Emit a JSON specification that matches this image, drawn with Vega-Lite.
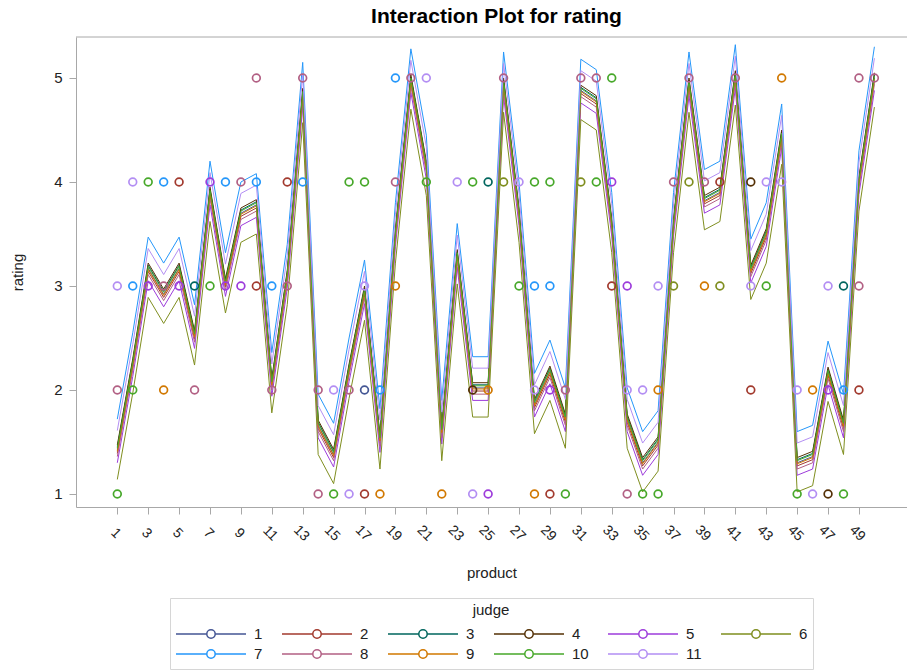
{
"$schema":"https://vega.github.io/schema/vega-lite/v6.json",
"width":831,"height":470,
"autosize":{"type":"none"},
"padding":{"left":76,"top":37,"right":0,"bottom":165},
"background":"white",
"title":{"text":"Interaction Plot for rating","fontSize":21,"font":"Liberation Sans","fontWeight":"bold","color":"#000","anchor":"middle","frame":"group","offset":10,"dx":5},
"datasets":{
"fits":[
{"product":1,"judge":1,"fit":1.42},{"product":1,"judge":2,"fit":1.39},{"product":1,"judge":3,"fit":1.45},{"product":1,"judge":4,"fit":1.47},{"product":1,"judge":5,"fit":1.30},{"product":1,"judge":6,"fit":1.14},{"product":1,"judge":7,"fit":1.72},{"product":1,"judge":8,"fit":1.36},{"product":1,"judge":9,"fit":1.41},{"product":1,"judge":10,"fit":1.44},{"product":1,"judge":11,"fit":1.61},
{"product":2,"judge":1,"fit":2.25},{"product":2,"judge":2,"fit":2.22},{"product":2,"judge":3,"fit":2.28},{"product":2,"judge":4,"fit":2.30},{"product":2,"judge":5,"fit":2.13},{"product":2,"judge":6,"fit":1.97},{"product":2,"judge":7,"fit":2.55},{"product":2,"judge":8,"fit":2.19},{"product":2,"judge":9,"fit":2.24},{"product":2,"judge":10,"fit":2.27},{"product":2,"judge":11,"fit":2.44},
{"product":3,"judge":1,"fit":3.17},{"product":3,"judge":2,"fit":3.14},{"product":3,"judge":3,"fit":3.20},{"product":3,"judge":4,"fit":3.22},{"product":3,"judge":5,"fit":3.05},{"product":3,"judge":6,"fit":2.89},{"product":3,"judge":7,"fit":3.47},{"product":3,"judge":8,"fit":3.11},{"product":3,"judge":9,"fit":3.16},{"product":3,"judge":10,"fit":3.19},{"product":3,"judge":11,"fit":3.36},
{"product":4,"judge":1,"fit":2.92},{"product":4,"judge":2,"fit":2.89},{"product":4,"judge":3,"fit":2.95},{"product":4,"judge":4,"fit":2.97},{"product":4,"judge":5,"fit":2.80},{"product":4,"judge":6,"fit":2.64},{"product":4,"judge":7,"fit":3.22},{"product":4,"judge":8,"fit":2.86},{"product":4,"judge":9,"fit":2.91},{"product":4,"judge":10,"fit":2.94},{"product":4,"judge":11,"fit":3.11},
{"product":5,"judge":1,"fit":3.17},{"product":5,"judge":2,"fit":3.14},{"product":5,"judge":3,"fit":3.20},{"product":5,"judge":4,"fit":3.22},{"product":5,"judge":5,"fit":3.05},{"product":5,"judge":6,"fit":2.89},{"product":5,"judge":7,"fit":3.47},{"product":5,"judge":8,"fit":3.11},{"product":5,"judge":9,"fit":3.16},{"product":5,"judge":10,"fit":3.19},{"product":5,"judge":11,"fit":3.36},
{"product":6,"judge":1,"fit":2.52},{"product":6,"judge":2,"fit":2.49},{"product":6,"judge":3,"fit":2.55},{"product":6,"judge":4,"fit":2.57},{"product":6,"judge":5,"fit":2.40},{"product":6,"judge":6,"fit":2.24},{"product":6,"judge":7,"fit":2.82},{"product":6,"judge":8,"fit":2.46},{"product":6,"judge":9,"fit":2.51},{"product":6,"judge":10,"fit":2.54},{"product":6,"judge":11,"fit":2.71},
{"product":7,"judge":1,"fit":3.90},{"product":7,"judge":2,"fit":3.87},{"product":7,"judge":3,"fit":3.93},{"product":7,"judge":4,"fit":3.95},{"product":7,"judge":5,"fit":3.78},{"product":7,"judge":6,"fit":3.62},{"product":7,"judge":7,"fit":4.20},{"product":7,"judge":8,"fit":3.84},{"product":7,"judge":9,"fit":3.89},{"product":7,"judge":10,"fit":3.92},{"product":7,"judge":11,"fit":4.09},
{"product":8,"judge":1,"fit":3.02},{"product":8,"judge":2,"fit":2.99},{"product":8,"judge":3,"fit":3.05},{"product":8,"judge":4,"fit":3.07},{"product":8,"judge":5,"fit":2.90},{"product":8,"judge":6,"fit":2.74},{"product":8,"judge":7,"fit":3.32},{"product":8,"judge":8,"fit":2.96},{"product":8,"judge":9,"fit":3.01},{"product":8,"judge":10,"fit":3.04},{"product":8,"judge":11,"fit":3.21},
{"product":9,"judge":1,"fit":3.70},{"product":9,"judge":2,"fit":3.67},{"product":9,"judge":3,"fit":3.73},{"product":9,"judge":4,"fit":3.75},{"product":9,"judge":5,"fit":3.58},{"product":9,"judge":6,"fit":3.42},{"product":9,"judge":7,"fit":4.00},{"product":9,"judge":8,"fit":3.64},{"product":9,"judge":9,"fit":3.69},{"product":9,"judge":10,"fit":3.72},{"product":9,"judge":11,"fit":3.89},
{"product":10,"judge":1,"fit":3.78},{"product":10,"judge":2,"fit":3.75},{"product":10,"judge":3,"fit":3.81},{"product":10,"judge":4,"fit":3.83},{"product":10,"judge":5,"fit":3.66},{"product":10,"judge":6,"fit":3.50},{"product":10,"judge":7,"fit":4.08},{"product":10,"judge":8,"fit":3.72},{"product":10,"judge":9,"fit":3.77},{"product":10,"judge":10,"fit":3.80},{"product":10,"judge":11,"fit":3.97},
{"product":11,"judge":1,"fit":2.06},{"product":11,"judge":2,"fit":2.03},{"product":11,"judge":3,"fit":2.09},{"product":11,"judge":4,"fit":2.11},{"product":11,"judge":5,"fit":1.94},{"product":11,"judge":6,"fit":1.78},{"product":11,"judge":7,"fit":2.36},{"product":11,"judge":8,"fit":2.00},{"product":11,"judge":9,"fit":2.05},{"product":11,"judge":10,"fit":2.08},{"product":11,"judge":11,"fit":2.25},
{"product":12,"judge":1,"fit":3.10},{"product":12,"judge":2,"fit":3.07},{"product":12,"judge":3,"fit":3.13},{"product":12,"judge":4,"fit":3.15},{"product":12,"judge":5,"fit":2.98},{"product":12,"judge":6,"fit":2.82},{"product":12,"judge":7,"fit":3.40},{"product":12,"judge":8,"fit":3.04},{"product":12,"judge":9,"fit":3.09},{"product":12,"judge":10,"fit":3.12},{"product":12,"judge":11,"fit":3.29},
{"product":13,"judge":1,"fit":4.85},{"product":13,"judge":2,"fit":4.82},{"product":13,"judge":3,"fit":4.88},{"product":13,"judge":4,"fit":4.90},{"product":13,"judge":5,"fit":4.73},{"product":13,"judge":6,"fit":4.57},{"product":13,"judge":7,"fit":5.15},{"product":13,"judge":8,"fit":4.79},{"product":13,"judge":9,"fit":4.84},{"product":13,"judge":10,"fit":4.87},{"product":13,"judge":11,"fit":5.04},
{"product":14,"judge":1,"fit":1.66},{"product":14,"judge":2,"fit":1.63},{"product":14,"judge":3,"fit":1.69},{"product":14,"judge":4,"fit":1.71},{"product":14,"judge":5,"fit":1.54},{"product":14,"judge":6,"fit":1.38},{"product":14,"judge":7,"fit":1.96},{"product":14,"judge":8,"fit":1.60},{"product":14,"judge":9,"fit":1.65},{"product":14,"judge":10,"fit":1.68},{"product":14,"judge":11,"fit":1.85},
{"product":15,"judge":1,"fit":1.38},{"product":15,"judge":2,"fit":1.35},{"product":15,"judge":3,"fit":1.41},{"product":15,"judge":4,"fit":1.43},{"product":15,"judge":5,"fit":1.26},{"product":15,"judge":6,"fit":1.10},{"product":15,"judge":7,"fit":1.68},{"product":15,"judge":8,"fit":1.32},{"product":15,"judge":9,"fit":1.37},{"product":15,"judge":10,"fit":1.40},{"product":15,"judge":11,"fit":1.57},
{"product":16,"judge":1,"fit":2.20},{"product":16,"judge":2,"fit":2.17},{"product":16,"judge":3,"fit":2.23},{"product":16,"judge":4,"fit":2.25},{"product":16,"judge":5,"fit":2.08},{"product":16,"judge":6,"fit":1.92},{"product":16,"judge":7,"fit":2.50},{"product":16,"judge":8,"fit":2.14},{"product":16,"judge":9,"fit":2.19},{"product":16,"judge":10,"fit":2.22},{"product":16,"judge":11,"fit":2.39},
{"product":17,"judge":1,"fit":2.95},{"product":17,"judge":2,"fit":2.92},{"product":17,"judge":3,"fit":2.98},{"product":17,"judge":4,"fit":3.00},{"product":17,"judge":5,"fit":2.83},{"product":17,"judge":6,"fit":2.67},{"product":17,"judge":7,"fit":3.25},{"product":17,"judge":8,"fit":2.89},{"product":17,"judge":9,"fit":2.94},{"product":17,"judge":10,"fit":2.97},{"product":17,"judge":11,"fit":3.14},
{"product":18,"judge":1,"fit":1.52},{"product":18,"judge":2,"fit":1.49},{"product":18,"judge":3,"fit":1.55},{"product":18,"judge":4,"fit":1.57},{"product":18,"judge":5,"fit":1.40},{"product":18,"judge":6,"fit":1.24},{"product":18,"judge":7,"fit":1.82},{"product":18,"judge":8,"fit":1.46},{"product":18,"judge":9,"fit":1.51},{"product":18,"judge":10,"fit":1.54},{"product":18,"judge":11,"fit":1.71},
{"product":19,"judge":1,"fit":3.50},{"product":19,"judge":2,"fit":3.47},{"product":19,"judge":3,"fit":3.53},{"product":19,"judge":4,"fit":3.55},{"product":19,"judge":5,"fit":3.38},{"product":19,"judge":6,"fit":3.22},{"product":19,"judge":7,"fit":3.80},{"product":19,"judge":8,"fit":3.44},{"product":19,"judge":9,"fit":3.49},{"product":19,"judge":10,"fit":3.52},{"product":19,"judge":11,"fit":3.69},
{"product":20,"judge":1,"fit":4.98},{"product":20,"judge":2,"fit":4.95},{"product":20,"judge":3,"fit":5.01},{"product":20,"judge":4,"fit":5.03},{"product":20,"judge":5,"fit":4.86},{"product":20,"judge":6,"fit":4.70},{"product":20,"judge":7,"fit":5.28},{"product":20,"judge":8,"fit":4.92},{"product":20,"judge":9,"fit":4.97},{"product":20,"judge":10,"fit":5.00},{"product":20,"judge":11,"fit":5.17},
{"product":21,"judge":1,"fit":4.15},{"product":21,"judge":2,"fit":4.12},{"product":21,"judge":3,"fit":4.18},{"product":21,"judge":4,"fit":4.20},{"product":21,"judge":5,"fit":4.03},{"product":21,"judge":6,"fit":3.87},{"product":21,"judge":7,"fit":4.45},{"product":21,"judge":8,"fit":4.09},{"product":21,"judge":9,"fit":4.14},{"product":21,"judge":10,"fit":4.17},{"product":21,"judge":11,"fit":4.34},
{"product":22,"judge":1,"fit":1.60},{"product":22,"judge":2,"fit":1.57},{"product":22,"judge":3,"fit":1.63},{"product":22,"judge":4,"fit":1.65},{"product":22,"judge":5,"fit":1.48},{"product":22,"judge":6,"fit":1.32},{"product":22,"judge":7,"fit":1.90},{"product":22,"judge":8,"fit":1.54},{"product":22,"judge":9,"fit":1.59},{"product":22,"judge":10,"fit":1.62},{"product":22,"judge":11,"fit":1.79},
{"product":23,"judge":1,"fit":3.30},{"product":23,"judge":2,"fit":3.27},{"product":23,"judge":3,"fit":3.33},{"product":23,"judge":4,"fit":3.35},{"product":23,"judge":5,"fit":3.18},{"product":23,"judge":6,"fit":3.02},{"product":23,"judge":7,"fit":3.60},{"product":23,"judge":8,"fit":3.24},{"product":23,"judge":9,"fit":3.29},{"product":23,"judge":10,"fit":3.32},{"product":23,"judge":11,"fit":3.49},
{"product":24,"judge":1,"fit":2.02},{"product":24,"judge":2,"fit":1.99},{"product":24,"judge":3,"fit":2.05},{"product":24,"judge":4,"fit":2.07},{"product":24,"judge":5,"fit":1.90},{"product":24,"judge":6,"fit":1.74},{"product":24,"judge":7,"fit":2.32},{"product":24,"judge":8,"fit":1.96},{"product":24,"judge":9,"fit":2.01},{"product":24,"judge":10,"fit":2.04},{"product":24,"judge":11,"fit":2.21},
{"product":25,"judge":1,"fit":2.02},{"product":25,"judge":2,"fit":1.99},{"product":25,"judge":3,"fit":2.05},{"product":25,"judge":4,"fit":2.07},{"product":25,"judge":5,"fit":1.90},{"product":25,"judge":6,"fit":1.74},{"product":25,"judge":7,"fit":2.32},{"product":25,"judge":8,"fit":1.96},{"product":25,"judge":9,"fit":2.01},{"product":25,"judge":10,"fit":2.04},{"product":25,"judge":11,"fit":2.21},
{"product":26,"judge":1,"fit":4.95},{"product":26,"judge":2,"fit":4.92},{"product":26,"judge":3,"fit":4.98},{"product":26,"judge":4,"fit":5.00},{"product":26,"judge":5,"fit":4.83},{"product":26,"judge":6,"fit":4.67},{"product":26,"judge":7,"fit":5.25},{"product":26,"judge":8,"fit":4.89},{"product":26,"judge":9,"fit":4.94},{"product":26,"judge":10,"fit":4.97},{"product":26,"judge":11,"fit":5.14},
{"product":27,"judge":1,"fit":3.70},{"product":27,"judge":2,"fit":3.67},{"product":27,"judge":3,"fit":3.73},{"product":27,"judge":4,"fit":3.75},{"product":27,"judge":5,"fit":3.58},{"product":27,"judge":6,"fit":3.42},{"product":27,"judge":7,"fit":4.00},{"product":27,"judge":8,"fit":3.64},{"product":27,"judge":9,"fit":3.69},{"product":27,"judge":10,"fit":3.72},{"product":27,"judge":11,"fit":3.89},
{"product":28,"judge":1,"fit":1.86},{"product":28,"judge":2,"fit":1.83},{"product":28,"judge":3,"fit":1.89},{"product":28,"judge":4,"fit":1.91},{"product":28,"judge":5,"fit":1.74},{"product":28,"judge":6,"fit":1.58},{"product":28,"judge":7,"fit":2.16},{"product":28,"judge":8,"fit":1.80},{"product":28,"judge":9,"fit":1.85},{"product":28,"judge":10,"fit":1.88},{"product":28,"judge":11,"fit":2.05},
{"product":29,"judge":1,"fit":2.18},{"product":29,"judge":2,"fit":2.15},{"product":29,"judge":3,"fit":2.21},{"product":29,"judge":4,"fit":2.23},{"product":29,"judge":5,"fit":2.06},{"product":29,"judge":6,"fit":1.90},{"product":29,"judge":7,"fit":2.48},{"product":29,"judge":8,"fit":2.12},{"product":29,"judge":9,"fit":2.17},{"product":29,"judge":10,"fit":2.20},{"product":29,"judge":11,"fit":2.37},
{"product":30,"judge":1,"fit":1.72},{"product":30,"judge":2,"fit":1.69},{"product":30,"judge":3,"fit":1.75},{"product":30,"judge":4,"fit":1.77},{"product":30,"judge":5,"fit":1.60},{"product":30,"judge":6,"fit":1.44},{"product":30,"judge":7,"fit":2.02},{"product":30,"judge":8,"fit":1.66},{"product":30,"judge":9,"fit":1.71},{"product":30,"judge":10,"fit":1.74},{"product":30,"judge":11,"fit":1.91},
{"product":31,"judge":1,"fit":4.88},{"product":31,"judge":2,"fit":4.85},{"product":31,"judge":3,"fit":4.91},{"product":31,"judge":4,"fit":4.93},{"product":31,"judge":5,"fit":4.76},{"product":31,"judge":6,"fit":4.60},{"product":31,"judge":7,"fit":5.18},{"product":31,"judge":8,"fit":4.82},{"product":31,"judge":9,"fit":4.87},{"product":31,"judge":10,"fit":4.90},{"product":31,"judge":11,"fit":5.07},
{"product":32,"judge":1,"fit":4.78},{"product":32,"judge":2,"fit":4.75},{"product":32,"judge":3,"fit":4.81},{"product":32,"judge":4,"fit":4.83},{"product":32,"judge":5,"fit":4.66},{"product":32,"judge":6,"fit":4.50},{"product":32,"judge":7,"fit":5.08},{"product":32,"judge":8,"fit":4.72},{"product":32,"judge":9,"fit":4.77},{"product":32,"judge":10,"fit":4.80},{"product":32,"judge":11,"fit":4.97},
{"product":33,"judge":1,"fit":3.60},{"product":33,"judge":2,"fit":3.57},{"product":33,"judge":3,"fit":3.63},{"product":33,"judge":4,"fit":3.65},{"product":33,"judge":5,"fit":3.48},{"product":33,"judge":6,"fit":3.32},{"product":33,"judge":7,"fit":3.90},{"product":33,"judge":8,"fit":3.54},{"product":33,"judge":9,"fit":3.59},{"product":33,"judge":10,"fit":3.62},{"product":33,"judge":11,"fit":3.79},
{"product":34,"judge":1,"fit":1.72},{"product":34,"judge":2,"fit":1.69},{"product":34,"judge":3,"fit":1.75},{"product":34,"judge":4,"fit":1.77},{"product":34,"judge":5,"fit":1.60},{"product":34,"judge":6,"fit":1.44},{"product":34,"judge":7,"fit":2.02},{"product":34,"judge":8,"fit":1.66},{"product":34,"judge":9,"fit":1.71},{"product":34,"judge":10,"fit":1.74},{"product":34,"judge":11,"fit":1.91},
{"product":35,"judge":1,"fit":1.30},{"product":35,"judge":2,"fit":1.27},{"product":35,"judge":3,"fit":1.33},{"product":35,"judge":4,"fit":1.35},{"product":35,"judge":5,"fit":1.18},{"product":35,"judge":6,"fit":1.02},{"product":35,"judge":7,"fit":1.60},{"product":35,"judge":8,"fit":1.24},{"product":35,"judge":9,"fit":1.29},{"product":35,"judge":10,"fit":1.32},{"product":35,"judge":11,"fit":1.49},
{"product":36,"judge":1,"fit":1.50},{"product":36,"judge":2,"fit":1.47},{"product":36,"judge":3,"fit":1.53},{"product":36,"judge":4,"fit":1.55},{"product":36,"judge":5,"fit":1.38},{"product":36,"judge":6,"fit":1.22},{"product":36,"judge":7,"fit":1.80},{"product":36,"judge":8,"fit":1.44},{"product":36,"judge":9,"fit":1.49},{"product":36,"judge":10,"fit":1.52},{"product":36,"judge":11,"fit":1.69},
{"product":37,"judge":1,"fit":3.60},{"product":37,"judge":2,"fit":3.57},{"product":37,"judge":3,"fit":3.63},{"product":37,"judge":4,"fit":3.65},{"product":37,"judge":5,"fit":3.48},{"product":37,"judge":6,"fit":3.32},{"product":37,"judge":7,"fit":3.90},{"product":37,"judge":8,"fit":3.54},{"product":37,"judge":9,"fit":3.59},{"product":37,"judge":10,"fit":3.62},{"product":37,"judge":11,"fit":3.79},
{"product":38,"judge":1,"fit":4.95},{"product":38,"judge":2,"fit":4.92},{"product":38,"judge":3,"fit":4.98},{"product":38,"judge":4,"fit":5.00},{"product":38,"judge":5,"fit":4.83},{"product":38,"judge":6,"fit":4.67},{"product":38,"judge":7,"fit":5.25},{"product":38,"judge":8,"fit":4.89},{"product":38,"judge":9,"fit":4.94},{"product":38,"judge":10,"fit":4.97},{"product":38,"judge":11,"fit":5.14},
{"product":39,"judge":1,"fit":3.82},{"product":39,"judge":2,"fit":3.79},{"product":39,"judge":3,"fit":3.85},{"product":39,"judge":4,"fit":3.87},{"product":39,"judge":5,"fit":3.70},{"product":39,"judge":6,"fit":3.54},{"product":39,"judge":7,"fit":4.12},{"product":39,"judge":8,"fit":3.76},{"product":39,"judge":9,"fit":3.81},{"product":39,"judge":10,"fit":3.84},{"product":39,"judge":11,"fit":4.01},
{"product":40,"judge":1,"fit":3.90},{"product":40,"judge":2,"fit":3.87},{"product":40,"judge":3,"fit":3.93},{"product":40,"judge":4,"fit":3.95},{"product":40,"judge":5,"fit":3.78},{"product":40,"judge":6,"fit":3.62},{"product":40,"judge":7,"fit":4.20},{"product":40,"judge":8,"fit":3.84},{"product":40,"judge":9,"fit":3.89},{"product":40,"judge":10,"fit":3.92},{"product":40,"judge":11,"fit":4.09},
{"product":41,"judge":1,"fit":5.02},{"product":41,"judge":2,"fit":4.99},{"product":41,"judge":3,"fit":5.05},{"product":41,"judge":4,"fit":5.07},{"product":41,"judge":5,"fit":4.90},{"product":41,"judge":6,"fit":4.74},{"product":41,"judge":7,"fit":5.32},{"product":41,"judge":8,"fit":4.96},{"product":41,"judge":9,"fit":5.01},{"product":41,"judge":10,"fit":5.04},{"product":41,"judge":11,"fit":5.21},
{"product":42,"judge":1,"fit":3.15},{"product":42,"judge":2,"fit":3.12},{"product":42,"judge":3,"fit":3.18},{"product":42,"judge":4,"fit":3.20},{"product":42,"judge":5,"fit":3.03},{"product":42,"judge":6,"fit":2.87},{"product":42,"judge":7,"fit":3.45},{"product":42,"judge":8,"fit":3.09},{"product":42,"judge":9,"fit":3.14},{"product":42,"judge":10,"fit":3.17},{"product":42,"judge":11,"fit":3.34},
{"product":43,"judge":1,"fit":3.50},{"product":43,"judge":2,"fit":3.47},{"product":43,"judge":3,"fit":3.53},{"product":43,"judge":4,"fit":3.55},{"product":43,"judge":5,"fit":3.38},{"product":43,"judge":6,"fit":3.22},{"product":43,"judge":7,"fit":3.80},{"product":43,"judge":8,"fit":3.44},{"product":43,"judge":9,"fit":3.49},{"product":43,"judge":10,"fit":3.52},{"product":43,"judge":11,"fit":3.69},
{"product":44,"judge":1,"fit":4.45},{"product":44,"judge":2,"fit":4.42},{"product":44,"judge":3,"fit":4.48},{"product":44,"judge":4,"fit":4.50},{"product":44,"judge":5,"fit":4.33},{"product":44,"judge":6,"fit":4.17},{"product":44,"judge":7,"fit":4.75},{"product":44,"judge":8,"fit":4.39},{"product":44,"judge":9,"fit":4.44},{"product":44,"judge":10,"fit":4.47},{"product":44,"judge":11,"fit":4.64},
{"product":45,"judge":1,"fit":1.30},{"product":45,"judge":2,"fit":1.27},{"product":45,"judge":3,"fit":1.33},{"product":45,"judge":4,"fit":1.35},{"product":45,"judge":5,"fit":1.18},{"product":45,"judge":6,"fit":1.02},{"product":45,"judge":7,"fit":1.60},{"product":45,"judge":8,"fit":1.24},{"product":45,"judge":9,"fit":1.29},{"product":45,"judge":10,"fit":1.32},{"product":45,"judge":11,"fit":1.49},
{"product":46,"judge":1,"fit":1.36},{"product":46,"judge":2,"fit":1.33},{"product":46,"judge":3,"fit":1.39},{"product":46,"judge":4,"fit":1.41},{"product":46,"judge":5,"fit":1.24},{"product":46,"judge":6,"fit":1.08},{"product":46,"judge":7,"fit":1.66},{"product":46,"judge":8,"fit":1.30},{"product":46,"judge":9,"fit":1.35},{"product":46,"judge":10,"fit":1.38},{"product":46,"judge":11,"fit":1.55},
{"product":47,"judge":1,"fit":2.17},{"product":47,"judge":2,"fit":2.14},{"product":47,"judge":3,"fit":2.20},{"product":47,"judge":4,"fit":2.22},{"product":47,"judge":5,"fit":2.05},{"product":47,"judge":6,"fit":1.89},{"product":47,"judge":7,"fit":2.47},{"product":47,"judge":8,"fit":2.11},{"product":47,"judge":9,"fit":2.16},{"product":47,"judge":10,"fit":2.19},{"product":47,"judge":11,"fit":2.36},
{"product":48,"judge":1,"fit":1.66},{"product":48,"judge":2,"fit":1.63},{"product":48,"judge":3,"fit":1.69},{"product":48,"judge":4,"fit":1.71},{"product":48,"judge":5,"fit":1.54},{"product":48,"judge":6,"fit":1.38},{"product":48,"judge":7,"fit":1.96},{"product":48,"judge":8,"fit":1.60},{"product":48,"judge":9,"fit":1.65},{"product":48,"judge":10,"fit":1.68},{"product":48,"judge":11,"fit":1.85},
{"product":49,"judge":1,"fit":4.00},{"product":49,"judge":2,"fit":3.97},{"product":49,"judge":3,"fit":4.03},{"product":49,"judge":4,"fit":4.05},{"product":49,"judge":5,"fit":3.88},{"product":49,"judge":6,"fit":3.72},{"product":49,"judge":7,"fit":4.30},{"product":49,"judge":8,"fit":3.94},{"product":49,"judge":9,"fit":3.99},{"product":49,"judge":10,"fit":4.02},{"product":49,"judge":11,"fit":4.19},
{"product":50,"judge":1,"fit":5.00},{"product":50,"judge":2,"fit":4.97},{"product":50,"judge":3,"fit":5.03},{"product":50,"judge":4,"fit":5.05},{"product":50,"judge":5,"fit":4.88},{"product":50,"judge":6,"fit":4.72},{"product":50,"judge":7,"fit":5.30},{"product":50,"judge":8,"fit":4.94},{"product":50,"judge":9,"fit":4.99},{"product":50,"judge":10,"fit":5.02},{"product":50,"judge":11,"fit":5.19}
],
"obs":[
{"product":1,"judge":11,"rating":3},{"product":1,"judge":8,"rating":2},{"product":1,"judge":10,"rating":1},
{"product":2,"judge":11,"rating":4},{"product":2,"judge":7,"rating":3},{"product":2,"judge":10,"rating":2},
{"product":3,"judge":10,"rating":4},{"product":3,"judge":5,"rating":3},
{"product":4,"judge":7,"rating":4},{"product":4,"judge":8,"rating":3},{"product":4,"judge":9,"rating":2},
{"product":5,"judge":2,"rating":4},{"product":5,"judge":5,"rating":3},
{"product":6,"judge":3,"rating":3},{"product":6,"judge":8,"rating":2},
{"product":7,"judge":5,"rating":4},{"product":7,"judge":10,"rating":3},
{"product":8,"judge":7,"rating":4},{"product":8,"judge":5,"rating":3},
{"product":9,"judge":8,"rating":4},{"product":9,"judge":5,"rating":3},
{"product":10,"judge":8,"rating":5},{"product":10,"judge":7,"rating":4},{"product":10,"judge":2,"rating":3},
{"product":11,"judge":7,"rating":3},{"product":11,"judge":8,"rating":2},
{"product":12,"judge":2,"rating":4},{"product":12,"judge":8,"rating":3},
{"product":13,"judge":8,"rating":5},{"product":13,"judge":7,"rating":4},
{"product":14,"judge":8,"rating":2},{"product":14,"judge":8,"rating":1},
{"product":15,"judge":11,"rating":2},{"product":15,"judge":10,"rating":1},
{"product":16,"judge":10,"rating":4},{"product":16,"judge":8,"rating":2},{"product":16,"judge":11,"rating":1},
{"product":17,"judge":10,"rating":4},{"product":17,"judge":11,"rating":3},{"product":17,"judge":1,"rating":2},{"product":17,"judge":2,"rating":1},
{"product":18,"judge":7,"rating":2},{"product":18,"judge":9,"rating":1},
{"product":19,"judge":7,"rating":5},{"product":19,"judge":8,"rating":4},{"product":19,"judge":9,"rating":3},
{"product":20,"judge":8,"rating":5},
{"product":21,"judge":11,"rating":5},{"product":21,"judge":10,"rating":4},
{"product":22,"judge":9,"rating":1},
{"product":23,"judge":11,"rating":4},
{"product":24,"judge":10,"rating":4},{"product":24,"judge":4,"rating":2},{"product":24,"judge":11,"rating":1},
{"product":25,"judge":3,"rating":4},{"product":25,"judge":9,"rating":2},{"product":25,"judge":5,"rating":1},
{"product":26,"judge":8,"rating":5},{"product":26,"judge":6,"rating":4},
{"product":27,"judge":11,"rating":4},{"product":27,"judge":10,"rating":3},
{"product":28,"judge":10,"rating":4},{"product":28,"judge":7,"rating":3},{"product":28,"judge":11,"rating":2},{"product":28,"judge":9,"rating":1},
{"product":29,"judge":10,"rating":4},{"product":29,"judge":7,"rating":3},{"product":29,"judge":5,"rating":2},{"product":29,"judge":2,"rating":1},
{"product":30,"judge":8,"rating":2},{"product":30,"judge":10,"rating":1},
{"product":31,"judge":8,"rating":5},{"product":31,"judge":6,"rating":4},
{"product":32,"judge":8,"rating":5},{"product":32,"judge":10,"rating":4},
{"product":33,"judge":10,"rating":5},{"product":33,"judge":5,"rating":4},{"product":33,"judge":2,"rating":3},
{"product":34,"judge":5,"rating":3},{"product":34,"judge":11,"rating":2},{"product":34,"judge":8,"rating":1},
{"product":35,"judge":11,"rating":2},{"product":35,"judge":10,"rating":1},
{"product":36,"judge":11,"rating":3},{"product":36,"judge":9,"rating":2},{"product":36,"judge":10,"rating":1},
{"product":37,"judge":8,"rating":4},{"product":37,"judge":6,"rating":3},
{"product":38,"judge":8,"rating":5},{"product":38,"judge":6,"rating":4},
{"product":39,"judge":8,"rating":4},{"product":39,"judge":9,"rating":3},
{"product":40,"judge":2,"rating":4},{"product":40,"judge":6,"rating":3},
{"product":41,"judge":8,"rating":5},
{"product":42,"judge":4,"rating":4},{"product":42,"judge":11,"rating":3},{"product":42,"judge":2,"rating":2},
{"product":43,"judge":11,"rating":4},{"product":43,"judge":10,"rating":3},
{"product":44,"judge":9,"rating":5},{"product":44,"judge":11,"rating":4},
{"product":45,"judge":11,"rating":2},{"product":45,"judge":10,"rating":1},
{"product":46,"judge":9,"rating":2},{"product":46,"judge":11,"rating":1},
{"product":47,"judge":11,"rating":3},{"product":47,"judge":5,"rating":2},{"product":47,"judge":4,"rating":1},
{"product":48,"judge":3,"rating":3},{"product":48,"judge":7,"rating":2},{"product":48,"judge":10,"rating":1},
{"product":49,"judge":8,"rating":5},{"product":49,"judge":8,"rating":3},{"product":49,"judge":2,"rating":2},
{"product":50,"judge":8,"rating":5}
],
"frame":[{"fit":5.394}]
},
"layer":[
{"data":{"name":"fits"},
 "mark":{"type":"line","strokeWidth":1,"clip":true},
 "encoding":{
  "x":{"field":"product","type":"quantitative","title":"product",
       "scale":{"domain":[-1.673,52.11],"nice":false,"zero":false},
       "axis":{"values":[1,3,5,7,9,11,13,15,17,19,21,23,25,27,29,31,33,35,37,39,41,43,45,47,49],"labelAngle":45,"labelAlign":"center","labelBaseline":"middle","labelPadding":19,"labelOffset":-2,"tickSize":7,"labelFlush":false,"labelOverlap":false,"titlePadding":22}},
  "y":{"field":"fit","type":"quantitative","title":"rating",
       "scale":{"domain":[0.875,5.394],"nice":false,"zero":false},
       "axis":{"values":[1,2,3,4,5],"tickSize":7,"labelPadding":7,"labelFontSize":15,"titlePadding":28}},
  "color":{"field":"judge","type":"nominal","title":"judge",
       "scale":{"domain":[1,2,3,4,5,6,7,8,9,10,11],"range":["#445694","#A23A2E","#01665E","#543005","#9D3CDB","#7F8E1F","#2597FA","#B26084","#D17800","#47A82A","#B38EF3"]}}
 }},
{"data":{"name":"obs"},
 "mark":{"type":"point","filled":false,"size":60,"strokeWidth":1.7,"opacity":1},
 "encoding":{
  "x":{"field":"product","type":"quantitative","title":"product",
       "axis":{"values":[1,3,5,7,9,11,13,15,17,19,21,23,25,27,29,31,33,35,37,39,41,43,45,47,49],"labelAngle":45,"labelAlign":"center","labelBaseline":"middle","labelPadding":19,"labelOffset":-2,"tickSize":7,"labelFlush":false,"labelOverlap":false,"titlePadding":22}},
  "y":{"field":"rating","type":"quantitative","title":"rating",
       "axis":{"values":[1,2,3,4,5],"tickSize":7,"labelPadding":7,"labelFontSize":15,"titlePadding":28}},
  "color":{"field":"judge","type":"nominal","title":"judge"}
 }},
{"data":{"name":"frame"},
 "mark":{"type":"rule","color":"#a8a8a8","strokeWidth":1},
 "encoding":{"y":{"field":"fit","type":"quantitative","title":"rating",
       "axis":{"values":[1,2,3,4,5],"tickSize":7,"labelPadding":7,"labelFontSize":15,"titlePadding":28}}}}
],
"config":{
 "font":"Liberation Sans",
 "view":{"stroke":null},
 "axis":{"domainColor":"#a8a8a8","tickColor":"#a8a8a8","labelColor":"#222","titleColor":"#222","labelFontSize":14,"titleFontSize":15,"titleFontWeight":"normal","grid":false,"labelFont":"Liberation Sans","titleFont":"Liberation Sans"},
 "axisX":{"labelOverlap":false},
 "legend":{"orient":"none","legendX":94,"legendY":561,"direction":"horizontal","columns":6,
   "strokeColor":"#d6d6d6","padding":5,"titleAnchor":"middle","titleFontSize":15,"titleFontWeight":"normal","titleColor":"#222","titlePadding":6,
   "labelFontSize":15,"labelColor":"#222","labelOffset":7,
   "symbolType":"M-1,0L-0.12,0M0.12,0L1,0M0.12,0A0.12,0.12,0,1,1,-0.12,0A0.12,0.12,0,1,1,0.12,0",
   "symbolSize":4900,"symbolStrokeWidth":1.5,"symbolFillColor":"transparent","symbolOpacity":1,
   "clipHeight":20,"columnPadding":18,"rowPadding":0,"symbolOffset":0}
}
}
